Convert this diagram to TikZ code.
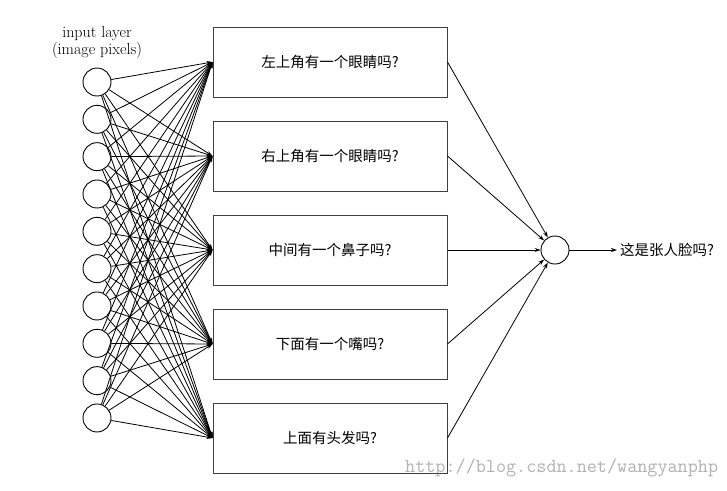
\documentclass[tikz,border=0pt]{standalone}
\usepackage{fontspec}
\newfontfamily\cjk{Noto Sans CJK SC}
\usetikzlibrary{arrows.meta}
\begin{document}
\begin{tikzpicture}[x=1pt,y=-1pt,
  neuron/.style={circle,draw,line width=0.9pt,minimum size=28pt,inner sep=0pt},
  qbox/.style={rectangle,draw=black!75,line width=1pt,minimum width=234pt,minimum height=70pt,inner sep=0pt,font=\cjk\fontsize{14.5}{17}\selectfont},
  conn/.style={line width=0.8pt,-{Stealth[length=6pt,width=4pt]}},
  lbl/.style={font=\fontsize{16}{17}\selectfont,align=center}]
\useasboundingbox (0,0) rectangle (727,490);
\fill[white] (0,0) rectangle (727,490);
% watermark
\node[anchor=west,inner sep=0pt,text=black!30,font=\ttfamily\fontsize{19.6}{20}\selectfont] (wm) at (405,468) {http://blog.csdn.net/wangyanphp};
% input label
\node[lbl] (inlabel) at (97,42) {input layer\\(image pixels)};
% input neurons
\foreach \i in {1,...,10} {
  \node[neuron] (in\i) at (97,{82+(\i-1)*37.33}) {};
}
% boxes
\node[qbox] (box1) at (330,62) {左上角有一个眼睛吗?};
\node[qbox] (box2) at (330,156) {右上角有一个眼睛吗?};
\node[qbox] (box3) at (330,250) {中间有一个鼻子吗?};
\node[qbox] (box4) at (330,344) {下面有一个嘴吗?};
\node[qbox] (box5) at (330,438) {上面有头发吗?};
% output neuron
\node[neuron] (out) at (555,250) {};
\node[anchor=west,inner sep=3pt,font=\cjk\fontsize{14.5}{17}\selectfont] (answer) at (617,250) {这是张人脸吗?};
% connections
\foreach \i in {1,...,10} {
  \foreach \j in {1,...,5} {
    \draw[conn] (in\i) -- (box\j.west);
  }
}
\foreach \j in {1,...,5} {
  \draw[conn] (box\j.east) -- (out);
}
\draw[conn] (out) -- (answer);
\end{tikzpicture}
\end{document}
